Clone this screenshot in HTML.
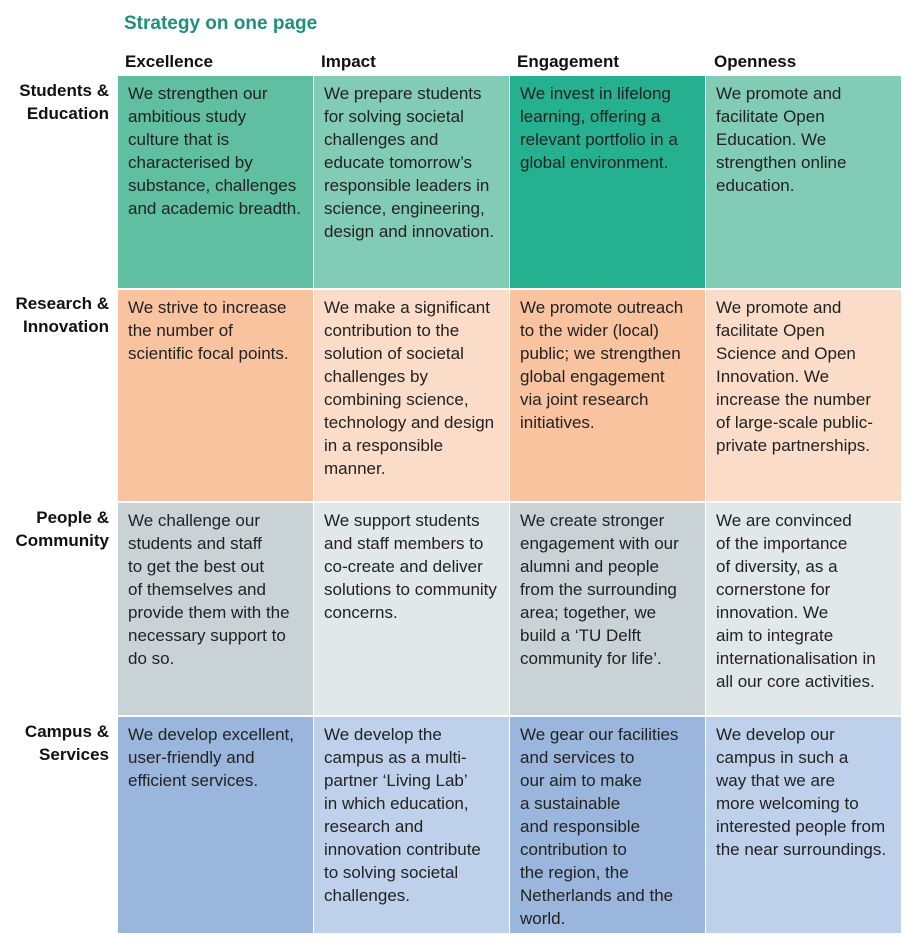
<!DOCTYPE html>
<html><head><meta charset="utf-8"><style>
body{margin:0;width:917px;height:947px;background:#fff;font-family:"Liberation Sans",Arial,sans-serif;position:relative;overflow:hidden}
.t{position:absolute;left:124px;top:13px;font-size:19px;font-weight:bold;color:#1f8f7d}
.h{position:absolute;top:52px;font-size:17px;font-weight:bold;color:#111}
.r{position:absolute;right:808px;text-align:right;font-size:17px;font-weight:bold;color:#111;line-height:23px}
.c{position:absolute;box-sizing:border-box;padding:6px 0 0 10px;font-size:17px;line-height:23px;color:#222;width:195px;white-space:nowrap;overflow:hidden}
</style></head><body>
<div class="t">Strategy on one page</div>
<div class="h" style="left:125px">Excellence</div>
<div class="h" style="left:321px">Impact</div>
<div class="h" style="left:517px">Engagement</div>
<div class="h" style="left:714px">Openness</div>

<div class="r" style="top:79px">Students &amp;<br>Education</div>
<div class="r" style="top:292px">Research &amp;<br>Innovation</div>
<div class="r" style="top:506px">People &amp;<br>Community</div>
<div class="r" style="top:720px">Campus &amp;<br>Services</div>

<div class="c" style="left:118px;top:76px;height:212px;background:#5fbfa0">We strengthen our<br>ambitious study<br>culture that is<br>characterised by<br>substance, challenges<br>and academic breadth.</div>
<div class="c" style="left:314px;top:76px;height:212px;background:#82cbb5">We prepare students<br>for solving societal<br>challenges and<br>educate tomorrow’s<br>responsible leaders in<br>science, engineering,<br>design and innovation.</div>
<div class="c" style="left:510px;top:76px;height:212px;background:#25b08f">We invest in lifelong<br>learning, offering a<br>relevant portfolio in a<br>global environment.</div>
<div class="c" style="left:706px;top:76px;height:212px;background:#82cbb5">We promote and<br>facilitate Open<br>Education. We<br>strengthen online<br>education.</div>

<div class="c" style="left:118px;top:290px;height:211px;background:#f9c3a0">We strive to increase<br>the number of<br>scientific focal points.</div>
<div class="c" style="left:314px;top:290px;height:211px;background:#fbdcc8">We make a significant<br>contribution to the<br>solution of societal<br>challenges by<br>combining science,<br>technology and design<br>in a responsible<br>manner.</div>
<div class="c" style="left:510px;top:290px;height:211px;background:#f9c3a0">We promote outreach<br>to the wider (local)<br>public; we strengthen<br>global engagement<br>via joint research<br>initiatives.</div>
<div class="c" style="left:706px;top:290px;height:211px;background:#fbdcc8">We promote and<br>facilitate Open<br>Science and Open<br>Innovation. We<br>increase the number<br>of large-scale public-<br>private partnerships.</div>

<div class="c" style="left:118px;top:503px;height:212px;background:#c9d3d6">We challenge our<br>students and staff<br>to get the best out<br>of themselves and<br>provide them with the<br>necessary support to<br>do so.</div>
<div class="c" style="left:314px;top:503px;height:212px;background:#e2e7e9">We support students<br>and staff members to<br>co-create and deliver<br>solutions to community<br>concerns.</div>
<div class="c" style="left:510px;top:503px;height:212px;background:#c9d3d6">We create stronger<br>engagement with our<br>alumni and people<br>from the surrounding<br>area; together, we<br>build a ‘TU Delft<br>community for life’.</div>
<div class="c" style="left:706px;top:503px;height:212px;background:#e2e7e9">We are convinced<br>of the importance<br>of diversity, as a<br>cornerstone for<br>innovation. We<br>aim to integrate<br>internationalisation in<br>all our core activities.</div>

<div class="c" style="left:118px;top:717px;height:216px;background:#9ab6dc">We develop excellent,<br>user-friendly and<br>efficient services.</div>
<div class="c" style="left:314px;top:717px;height:216px;background:#bfd1ea">We develop the<br>campus as a multi-<br>partner ‘Living Lab’<br>in which education,<br>research and<br>innovation contribute<br>to solving societal<br>challenges.</div>
<div class="c" style="left:510px;top:717px;height:216px;background:#9ab6dc">We gear our facilities<br>and services to<br>our aim to make<br>a sustainable<br>and responsible<br>contribution to<br>the region, the<br>Netherlands and the<br>world.</div>
<div class="c" style="left:706px;top:717px;height:216px;background:#bfd1ea">We develop our<br>campus in such a<br>way that we are<br>more welcoming to<br>interested people from<br>the near surroundings.</div>
</body></html>
